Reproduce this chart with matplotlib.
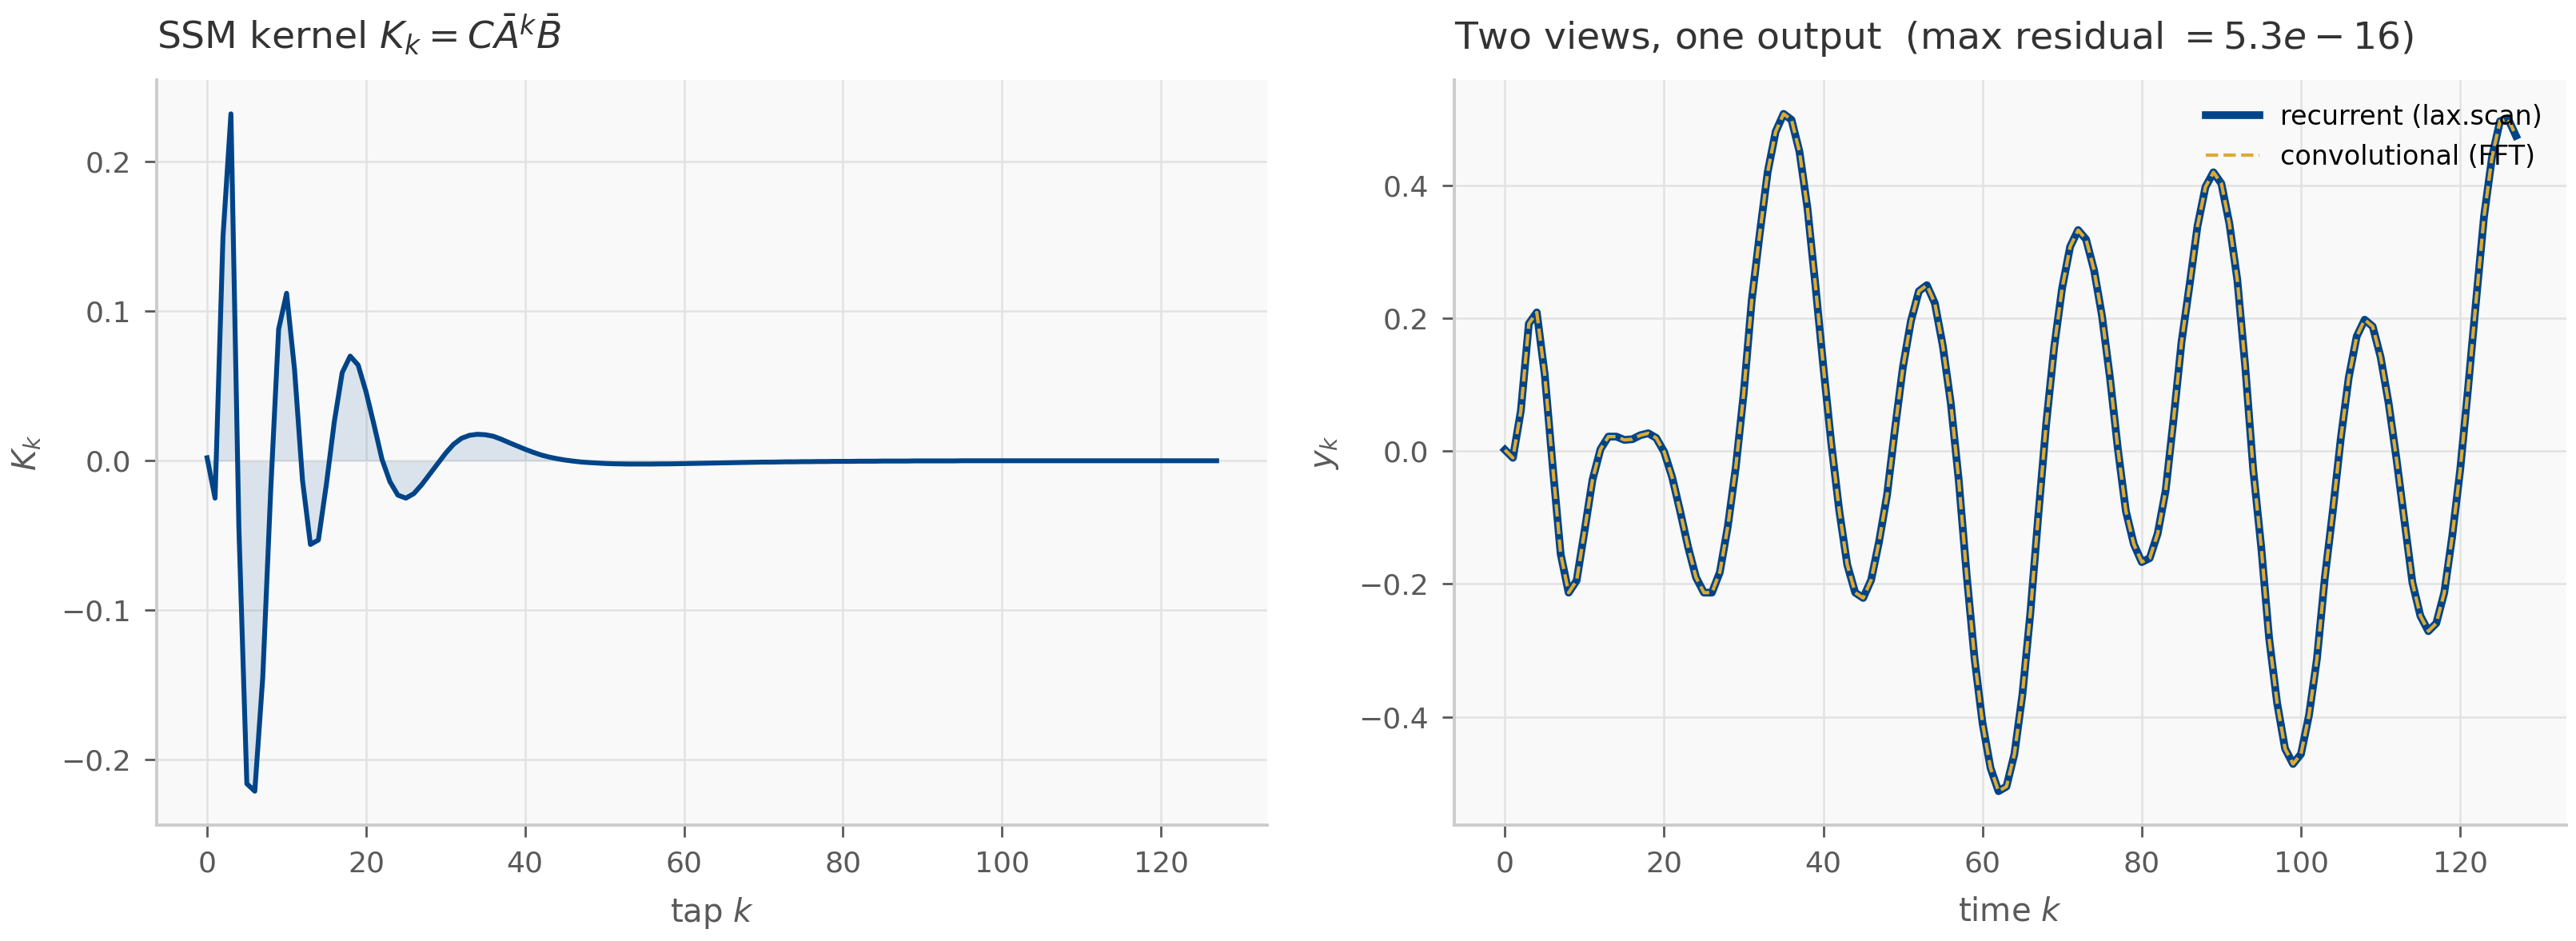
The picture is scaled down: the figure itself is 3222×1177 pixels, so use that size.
import matplotlib
matplotlib.use("Agg")
import matplotlib.pyplot as plt
import numpy as np

BLUE = "#004488"
GOLD = "#DDAA33"

# SSM kernel K_k, k = 0..127
kernel = [
    0.002, -0.025, 0.150, 0.232, -0.045, -0.216, -0.221, -0.145, -0.020, 0.088,
    0.112, 0.061, -0.013, -0.056, -0.053, -0.016, 0.026, 0.059, 0.070, 0.064,
    0.046, 0.024, 0.001, -0.014, -0.023, -0.025, -0.022, -0.016, -0.009, -0.002,
    0.005, 0.011, 0.015, 0.017, 0.0177, 0.0174, 0.0164, 0.0144, 0.0121, 0.0099,
    0.0077, 0.0057, 0.0039, 0.0025, 0.0014, 0.0005, -0.0002, -0.0008, -0.0012, -0.0015,
    -0.0018, -0.0020, -0.0021, -0.0022, -0.0022, -0.0022, -0.0022, -0.0021, -0.0021, -0.0020,
    -0.0019, -0.0018, -0.0017, -0.0016, -0.0015, -0.0014, -0.0013, -0.0012, -0.0011, -0.0010,
    -0.0009, -0.0009, -0.0008, -0.0007, -0.0007, -0.0006, -0.0006, -0.0005, -0.0005, -0.0004,
    -0.0004, -0.0004, -0.0003, -0.0003, -0.0003, -0.0002, -0.0002, -0.0002, -0.0002, -0.0001,
    -0.0001, -0.0001, -0.0001, -0.0001, -0.0001, 0.0, 0.0, 0.0, 0.0, 0.0,
    0.0, 0.0, 0.0, 0.0, 0.0, 0.0, 0.0, 0.0, 0.0, 0.0,
    0.0, 0.0, 0.0, 0.0, 0.0, 0.0, 0.0, 0.0, 0.0, 0.0,
    0.0, 0.0, 0.0, 0.0, 0.0, 0.0, 0.0, 0.0,
]

# output y_k, k = 0..127 (recurrent and convolutional agree)
y_out = [
    0.002, -0.010, 0.061, 0.192, 0.209, 0.115, -0.023, -0.155, -0.213, -0.195,
    -0.120, -0.043, 0.003, 0.022, 0.022, 0.017, 0.018, 0.024, 0.027, 0.020,
    -0.001, -0.039, -0.090, -0.144, -0.190, -0.213, -0.213, -0.182, -0.113, -0.024,
    0.088, 0.227, 0.327, 0.420, 0.481, 0.508, 0.499, 0.451, 0.366, 0.250,
    0.127, 0.011, -0.090, -0.171, -0.213, -0.221, -0.194, -0.136, -0.066, 0.034,
    0.127, 0.196, 0.241, 0.250, 0.223, 0.159, 0.073, -0.043, -0.186, -0.313,
    -0.410, -0.477, -0.512, -0.505, -0.456, -0.367, -0.244, -0.097, 0.042, 0.157,
    0.246, 0.308, 0.333, 0.319, 0.273, 0.204, 0.111, 0.003, -0.090, -0.140,
    -0.167, -0.161, -0.124, -0.059, 0.049, 0.165, 0.250, 0.339, 0.398, 0.420,
    0.403, 0.343, 0.258, 0.127, -0.028, -0.144, -0.282, -0.379, -0.448, -0.471,
    -0.456, -0.398, -0.313, -0.190, -0.090, 0.019, 0.111, 0.173, 0.198, 0.188,
    0.142, 0.073, -0.012, -0.105, -0.198, -0.248, -0.271, -0.259, -0.213, -0.128,
    -0.028, 0.096, 0.227, 0.354, 0.443, 0.497, 0.501, 0.475,
]

max_residual = "5.3e-16"


def style_axes(ax):
    ax.set_facecolor("#f9f9f9")
    for side in ("top", "right"):
        ax.spines[side].set_visible(False)
    for side in ("left", "bottom"):
        ax.spines[side].set_color("#cccccc")
        ax.spines[side].set_linewidth(1.4)
    ax.grid(True, color="#e2e2e2", linewidth=0.9)
    ax.set_axisbelow(True)
    ax.tick_params(colors="#5a5a5a", labelsize=13, length=5.5, width=1.0, pad=6)


fig = plt.figure(figsize=(16.11, 5.885), dpi=200)
ax1 = fig.add_axes([0.0608, 0.1232, 0.4311, 0.7918])
ax2 = fig.add_axes([0.5646, 0.1232, 0.4317, 0.7918])

k = np.arange(len(kernel))
K = np.array(kernel)
style_axes(ax1)
ax1.fill_between(k, K, 0, color=BLUE, alpha=0.12, linewidth=0)
ax1.plot(k, K, color=BLUE, lw=2.2)
ax1.set_title(r"SSM kernel $K_k = C\bar{A}^k\bar{B}$", loc="left",
              fontsize=17, color="#333333", pad=14)
ax1.set_xlabel(r"tap $k$", fontsize=14.5, color="#5a5a5a", labelpad=8)
ax1.set_ylabel(r"$K_k$", fontsize=14.5, color="#5a5a5a", labelpad=8)

t = np.arange(len(y_out))
style_axes(ax2)
ax2.plot(t, y_out, color=BLUE, lw=3.5, label="recurrent (lax.scan)")
ax2.plot(t, y_out, color=GOLD, lw=1.5, ls="--", label="convolutional (FFT)")
ax2.set_title(r"Two views, one output  (max residual $= " + max_residual + "$)",
              loc="left", fontsize=17, color="#333333", pad=14)
ax2.set_xlabel(r"time $k$", fontsize=14.5, color="#5a5a5a", labelpad=8)
ax2.set_ylabel(r"$y_k$", fontsize=14.5, color="#5a5a5a", labelpad=8)
ax2.legend(loc="upper right", frameon=False, fontsize=12)

fig.savefig("out.png", dpi=200)
